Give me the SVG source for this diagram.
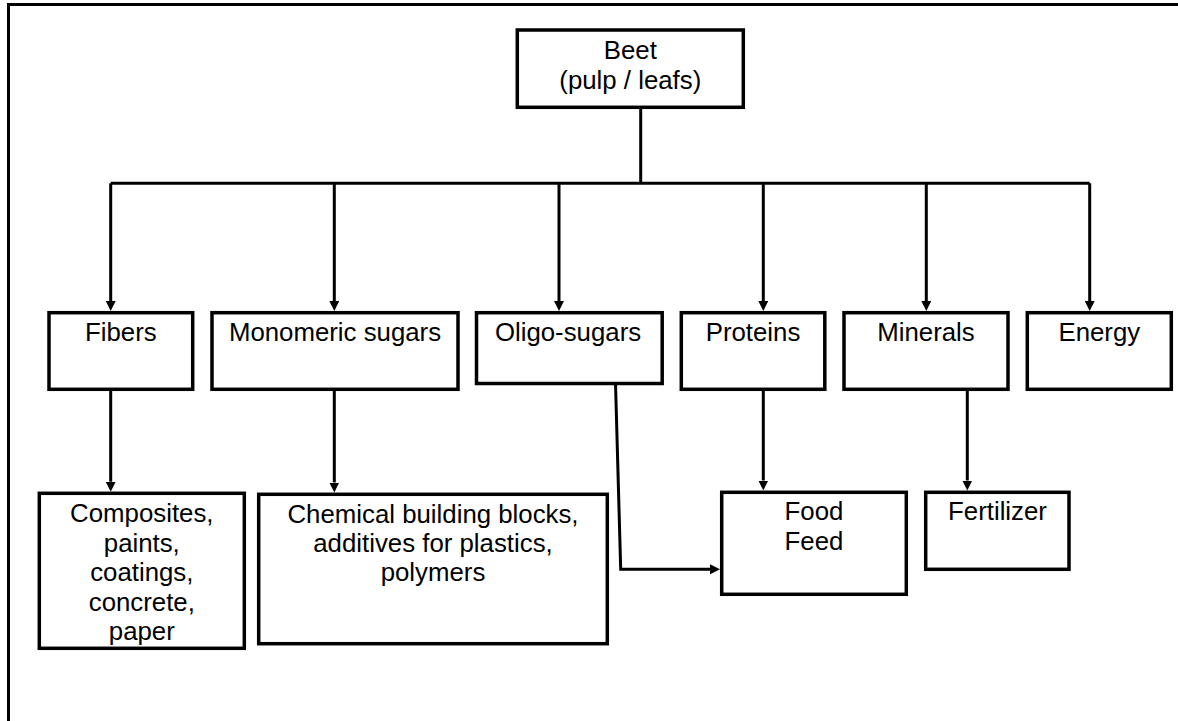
<svg xmlns="http://www.w3.org/2000/svg" width="1178" height="721" viewBox="0 0 1178 721">
<style>
.box{fill:#fff;stroke:#000;stroke-width:3.5}
.ln{fill:none;stroke:#000;stroke-width:3}
.t{font-family:"Liberation Sans",Arial,sans-serif;font-size:25.8px;fill:#000;text-anchor:middle}
</style>
<defs>
<marker id="ah" markerUnits="userSpaceOnUse" markerWidth="10" markerHeight="10" refX="0" refY="5" orient="auto">
<path d="M0,0 L10,5 L0,10 z" fill="#000"/>
</marker>
</defs>
<rect x="8.5" y="4.5" width="1200" height="740" fill="none" stroke="#000" stroke-width="3"/>
<g id="connectors">
<path class="ln" d="M640.7,107 V183.3"/>
<path class="ln" d="M110.7,183.3 H1089.7"/>
<path class="ln" d="M110.7,183.3 V301" marker-end="url(#ah)"/>
<path class="ln" d="M334.3,183.3 V301" marker-end="url(#ah)"/>
<path class="ln" d="M559,183.3 V301" marker-end="url(#ah)"/>
<path class="ln" d="M763.3,183.3 V301" marker-end="url(#ah)"/>
<path class="ln" d="M926.3,183.3 V301" marker-end="url(#ah)"/>
<path class="ln" d="M1089.7,183.3 V301" marker-end="url(#ah)"/>
<path class="ln" d="M110.7,389 V481.7" marker-end="url(#ah)"/>
<path class="ln" d="M334.3,389 V482.5" marker-end="url(#ah)"/>
<path class="ln" d="M615.5,383 L620.7,569.3 H710" marker-end="url(#ah)"/>
<path class="ln" d="M763.3,389 V480.5" marker-end="url(#ah)"/>
<path class="ln" d="M967.3,389 V480.5" marker-end="url(#ah)"/>
</g>
<g id="beet"><rect class="box" x="517.3" y="30" width="226" height="77.3"/><text class="t" x="630.3" y="59.3">Beet</text><text class="t" x="630.3" y="89.3">(pulp / leafs)</text></g>
<g id="fibers"><rect class="box" x="49" y="312.7" width="143.7" height="76.6"/><text class="t" x="120.8" y="341">Fibers</text></g>
<g id="monomeric"><rect class="box" x="212" y="312.7" width="246" height="76.6"/><text class="t" x="335" y="341">Monomeric sugars</text></g>
<g id="oligo"><rect class="box" x="476.5" y="312.7" width="185.7" height="70.8"/><text class="t" x="568" y="341">Oligo-sugars</text></g>
<g id="proteins"><rect class="box" x="681.3" y="312.7" width="143.5" height="76.6"/><text class="t" x="753" y="341">Proteins</text></g>
<g id="minerals"><rect class="box" x="844" y="312.7" width="164" height="76.6"/><text class="t" x="926" y="341">Minerals</text></g>
<g id="energy"><rect class="box" x="1027.3" y="312.7" width="144" height="76.6"/><text class="t" x="1099.3" y="341">Energy</text></g>
<g id="composites"><rect class="box" x="39.3" y="493.3" width="205" height="155"/>
<text class="t" x="141.8" y="522.3">Composites,</text>
<text class="t" x="141.8" y="551.7">paints,</text>
<text class="t" x="141.8" y="581.1">coatings,</text>
<text class="t" x="141.8" y="610.5">concrete,</text>
<text class="t" x="141.8" y="639.9">paper</text></g>
<g id="chemical"><rect class="box" x="258.7" y="494.3" width="348.6" height="149.4"/>
<text class="t" x="433" y="522.5">Chemical building blocks,</text>
<text class="t" x="433" y="551.8">additives for plastics,</text>
<text class="t" x="433" y="581.1">polymers</text></g>
<g id="food"><rect class="box" x="721.7" y="492.3" width="184.6" height="102"/>
<text class="t" x="814" y="520">Food</text>
<text class="t" x="814" y="550">Feed</text></g>
<g id="fertilizer"><rect class="box" x="925.7" y="492.3" width="143.3" height="77"/>
<text class="t" x="997.5" y="520">Fertilizer</text></g>
</svg>
